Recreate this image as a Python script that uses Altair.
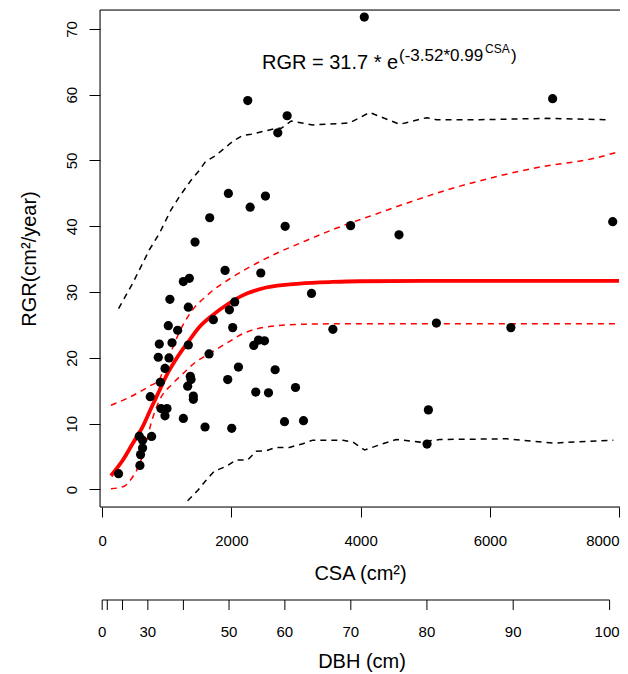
import math
import altair as alt
import pandas as pd

# ---- observed points (CSA cm², RGR cm²/year) ----
csa = [253, 584, 594, 625, 574, 625, 765, 972, 910, 1003, 744, 899, 972, 1034, 868,
       1081, 884, 1023, 1168, 1333, 1333, 1048, 1721, 1969, 2051, 2020, 1654, 1364,
       1375, 1323, 1411, 1411, 1256, 1592, 2005, 1943, 2109, 2346, 2419, 2512, 2677,
       2377, 2574, 2992, 2822, 3116, 3571, 2253, 2863, 2718, 1953, 2527, 2290, 1664,
       2832, 3845, 1437, 1902, 1256, 1349, 2455, 3240, 4057, 6972, 4594, 7902, 5173,
       6326, 5049, 5028]
rgr = [2.4, 3.65, 5.3, 6.3, 8.1, 7.5, 8.07, 11.2, 12.3, 12.3, 14.1, 16.3, 18.4, 20.0, 20.1,
       22.3, 22.1, 24.9, 24.2, 21.96, 27.7, 28.9, 25.8, 27.3, 28.5, 24.6, 20.6, 17.2,
       16.7, 15.7, 14.2, 13.7, 10.8, 9.5, 9.3, 16.7, 18.6, 21.9, 22.7, 22.6, 18.2,
       14.8, 14.7, 15.5, 10.3, 10.45, 24.35, 59.1, 56.8, 54.2, 45.0, 44.6, 42.9, 41.3,
       40.0, 40.1, 37.6, 33.3, 31.6, 32.1, 32.9, 29.8, 71.8, 59.4, 38.7, 40.7, 25.3,
       24.6, 12.1, 6.9]

# ---- fitted curve (red solid) ----
fit_x = [135, 315, 470, 625, 755, 884, 988, 1143, 1322, 1504, 1710, 1918, 2175, 2538,
         3054, 3571, 3984, 5000, 6000, 7000, 8000]
fit_y = [2.1, 4.4, 6.95, 9.5, 12.3, 15.0, 17.2, 19.8, 22.3, 24.7, 26.5, 28.0, 29.5, 30.7,
         31.3, 31.55, 31.65, 31.7, 31.7, 31.7, 31.7]

# ---- confidence band (red dashed) ----
ci_up_x = [135, 419, 729, 884, 988, 1090, 1194, 1349, 1659, 2020, 2434, 2744, 3054, 3674,
           4191, 4709, 5329, 5999, 6775, 7602, 7950]
ci_up_y = [12.8, 14.0, 15.7, 16.7, 19.3, 21.5, 23.9, 26.6, 29.8, 32.3, 34.6, 36.1, 37.4, 39.9,
           41.7, 43.5, 45.5, 47.3, 49.0, 50.3, 51.2]
ci_lo_x = [135, 341, 470, 600, 678, 755, 884, 1090, 1250, 1450, 1659, 1918, 2228, 2538,
           3054, 3984, 5000, 6000, 7000, 7950]
ci_lo_y = [0.1, 0.5, 1.9, 4.4, 6.95, 10.0, 13.5, 16.1, 17.6, 19.4, 20.65, 22.2, 23.9, 24.7,
           25.1, 25.2, 25.2, 25.2, 25.2, 25.2]

# ---- prediction band (black dashed) ----
pi_up_x = [253, 470, 729, 884, 1065, 1194, 1375, 1504, 1597, 1763, 2020, 2175, 2305, 2485,
           2693, 2771, 2926, 3260, 3829, 4140, 4605, 5019, 5174, 5845, 6879, 7809]
pi_up_y = [27.5, 31.3, 36.4, 38.9, 42.5, 44.5, 47.0, 48.5, 49.8, 50.8, 52.9, 53.8, 54.0, 54.4,
           54.9, 54.9, 56.0, 55.4, 55.7, 57.3, 55.5, 56.5, 56.2, 56.2, 56.4, 56.2]
pi_lo_x = [1322, 1478, 1608, 1736, 1918, 2073, 2253, 2383, 2538, 2693, 2899, 3105, 3260, 3726,
           3881, 4062, 4295, 4553, 4915, 5225, 6259, 6981, 7912]
pi_lo_y = [-1.7, -0.15, 1.4, 2.8, 3.5, 4.5, 4.5, 5.8, 5.9, 6.4, 6.4, 6.95, 7.5, 7.5,
           7.2, 6.0, 6.8, 7.6, 7.2, 7.6, 7.7, 7.05, 7.5]

# ---- axes ----
csa_ticks = [0, 2000, 4000, 6000, 8000]
rgr_ticks = [0, 10, 20, 30, 40, 50, 60, 70]
dbh_ticks = [0, 10, 20, 30, 40, 50, 60, 70, 80, 90, 100]
dbh_labels = ["0", "", "", "30", "", "50", "60", "70", "80", "90", "100"]

FONT = "Liberation Sans"
W, H = 520, 497
XDOM = [-34, 8015]
YDOM = [-2.66, 72.87]

xs = alt.Scale(domain=XDOM, nice=False, zero=False)
ys = alt.Scale(domain=YDOM, nice=False, zero=False)

XAX = alt.Axis(
    values=csa_ticks, title="CSA (cm²)", grid=False, domain=False,
    tickSize=10, tickColor="black", tickWidth=1, labelFlush=False,
    labelAlign={"condition": {"test": "datum.value == 8000", "value": "right"}, "value": "center"},
    labelFont=FONT, labelFontSize=15, labelColor="black", labelPadding=16,
    titleFont=FONT, titleFontSize=20, titleFontWeight="normal", titleColor="black",
    titlePadding=15, format="d")
YAX = alt.Axis(
    values=rgr_ticks, title="RGR(cm²/year)", grid=False, domain=False,
    tickSize=11, tickColor="black", tickWidth=1,
    labelAngle=270, labelAlign="center", labelBaseline="bottom",
    labelFont=FONT, labelFontSize=15, labelColor="black", labelPadding=10,
    titleFont=FONT, titleFontSize=20, titleFontWeight="normal", titleColor="black",
    titlePadding=25)

def X(field="CSA"):
    return alt.X(f"{field}:Q", scale=xs, axis=XAX, title="CSA (cm²)")

def Y(field="RGR"):
    return alt.Y(f"{field}:Q", scale=ys, axis=YAX, title="RGR(cm²/year)")

pts = pd.DataFrame({"CSA": csa, "RGR": rgr})

def line_df(xv, yv):
    return pd.DataFrame({"CSA": xv, "RGR": yv, "o": list(range(len(xv)))})

def mk_line(xv, yv, color, width, dash=None, interp="linear"):
    kw = dict(color=color, strokeWidth=width, interpolate=interp)
    if dash:
        kw["strokeDash"] = dash
    return alt.Chart(line_df(xv, yv)).mark_line(**kw).encode(
        x=X(), y=Y(), order="o:Q")

points = alt.Chart(pts).mark_circle(size=85, color="black", opacity=1).encode(x=X(), y=Y())

fit = mk_line(fit_x, fit_y, "#FF0000", 3.8, interp="monotone")
ci_up = mk_line(ci_up_x, ci_up_y, "#FF0000", 1.5, [6, 5], "monotone")
ci_lo = mk_line(ci_lo_x, ci_lo_y, "#FF0000", 1.5, [6, 5], "monotone")
pi_up = mk_line(pi_up_x, pi_up_y, "black", 1.5, [6, 5])
pi_lo = mk_line(pi_lo_x, pi_lo_y, "black", 1.5, [6, 5])

# ---- plot frame (left, top, bottom; right edge lies beyond the page) ----
frame_df = pd.DataFrame({"k": [0]})
frame_left = alt.Chart(frame_df).mark_rule(color="black", strokeWidth=1).encode(
    x=alt.value(0), y=alt.value(0), y2=alt.value(H))
frame_top = alt.Chart(frame_df).mark_rule(color="black", strokeWidth=1).encode(
    x=alt.value(0), x2=alt.value(W), y=alt.value(0))
frame_bot = alt.Chart(frame_df).mark_rule(color="black", strokeWidth=1).encode(
    x=alt.value(0), x2=alt.value(W), y=alt.value(H))

# ---- secondary DBH axis drawn below ----
dbh_df = pd.DataFrame({
    "DBH": dbh_ticks,
    "lab": dbh_labels,
    "CSA": [math.pi / 4 * d * d for d in dbh_ticks],
})
AX2 = 590
dbh_line = alt.Chart(dbh_df).mark_rule(color="black", strokeWidth=1).encode(
    x=alt.X("min(CSA):Q", scale=xs, axis=XAX, title="CSA (cm²)"),
    x2="max(CSA):Q", y=alt.value(AX2))
dbh_tick = alt.Chart(dbh_df).mark_rule(color="black", strokeWidth=1).encode(
    x=X(), y=alt.value(AX2), y2=alt.value(AX2 + 10))
dbh_text = alt.Chart(dbh_df).transform_filter("datum.DBH < 100").mark_text(
    font=FONT, fontSize=15, color="black", baseline="middle", align="center").encode(
    x=X(), y=alt.value(AX2 + 32), text="lab:N")
dbh_text_last = alt.Chart(dbh_df).transform_filter("datum.DBH == 100").mark_text(
    font=FONT, fontSize=15, color="black", baseline="middle", align="right", dx=10).encode(
    x=X(), y=alt.value(AX2 + 32), text="lab:N")
dbh_title = alt.Chart(pd.DataFrame({"t": ["DBH (cm)"]})).mark_text(
    font=FONT, fontSize=20, color="black", baseline="middle", align="center").encode(
    x=alt.value(262), y=alt.value(AX2 + 62), text="t:N")

# ---- equation annotation ----
def eq(txt, x, y, size):
    return alt.Chart(pd.DataFrame({"t": [txt]})).mark_text(
        font=FONT, fontSize=size, color="black", align="left", baseline="alphabetic").encode(
        x=alt.value(x), y=alt.value(y), text="t:N")

eq1 = eq("RGR = 31.7 * e", 162, 59, 20)
eq2 = eq("(-3.52*0.99", 299, 51, 17)
eq3 = eq("CSA", 385, 43, 12)
eq4 = eq(")", 411, 51, 17)

chart = alt.layer(
    pi_up, pi_lo, ci_up, ci_lo, fit, points,
    frame_left, frame_top, frame_bot,
    dbh_line, dbh_tick, dbh_text, dbh_text_last, dbh_title,
    eq1, eq2, eq3, eq4,
).properties(
    width=W, height=H,
    autosize=alt.AutoSizeParams(type="none"),
    padding={"left": 92, "top": 2, "right": 0, "bottom": 167},
).configure_view(
    strokeWidth=0,
).configure(background="white")

chart.save("out.html", embed_options={"renderer": "svg", "actions": False})
